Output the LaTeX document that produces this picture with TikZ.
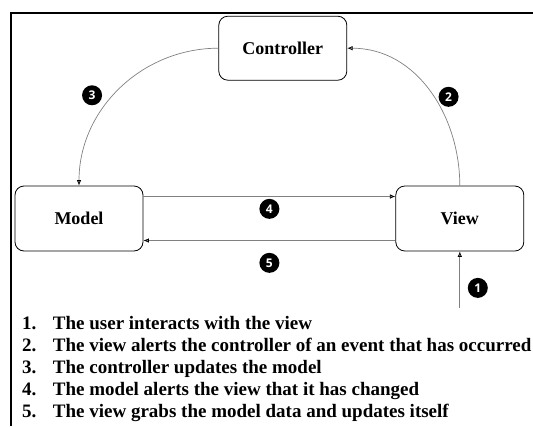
\documentclass[tikz,border=0pt]{standalone}
\usepackage{fontspec}
\setmainfont{Liberation Serif}
\newfontfamily\badgefont{Open Sans}
\usetikzlibrary{arrows.meta, positioning}

\begin{document}
\begin{tikzpicture}[x=1pt, y=-1pt, node distance={252pt},
        main/.style = {draw, rounded corners=9pt, minimum width=128pt, minimum height=65pt, line width=0.8pt, font=\fontsize{18}{22}\selectfont\bfseries},
        badge/.style = {circle, fill=black, text=white, inner sep=0pt, minimum size=20pt, font=\badgefont\fontsize{12}{12}\selectfont\bfseries},
        flow/.style = {gray, line width=0.7pt, -{Latex[length=5.5pt,width=4.5pt,black]}}]
            \useasboundingbox (0,0) rectangle (533,426);
            \draw[line width=2pt] (11,426) -- (11,12.5) -- (533,12.5);

            \node[main] (model) at (79,218.5) {Model};
            \node[main] (view) [right=of model] {View};
            \node[main, minimum height=64pt] (controller) [above right=105pt and 75pt of model] {Controller};

            \path[flow] (controller.west) edge[out=180, in=90] node[badge, xshift=-28pt, yshift=-7pt] (s3) {3} (model.north);
            \path[flow] (view.north) edge[out=90, in=0] node[badge, xshift=19pt, yshift=-6pt] (s2) {2} (controller.east);

            \path[flow] ([yshift=22pt]model.east) edge node[badge, below=2pt] (s4) {4} ([yshift=22pt]view.west);
            \path[flow] ([yshift=-22pt]view.west) edge node[badge, below=12pt] (s5) {5} ([yshift=-22pt]model.east);

            \coordinate (user) at ([yshift=-57pt]view.south);
            \path[flow] (user) edge node[badge, xshift=18pt, yshift=-8pt] (s1) {1} (view.south);

            \node[anchor=north west, inner sep=0pt, font=\fontsize{19}{22}\selectfont\bfseries] (steps) at (22,313.6) {%
                \begin{tabular}{@{}l@{\hspace{16.5pt}}l@{}}
                    1. & The user interacts with the view\\
                    2. & The view alerts the controller of an event that has occurred\\
                    3. & The controller updates the model\\
                    4. & The model alerts the view that it has changed\\
                    5. & The view grabs the model data and updates itself
                \end{tabular}};
        \end{tikzpicture}
\end{document}
